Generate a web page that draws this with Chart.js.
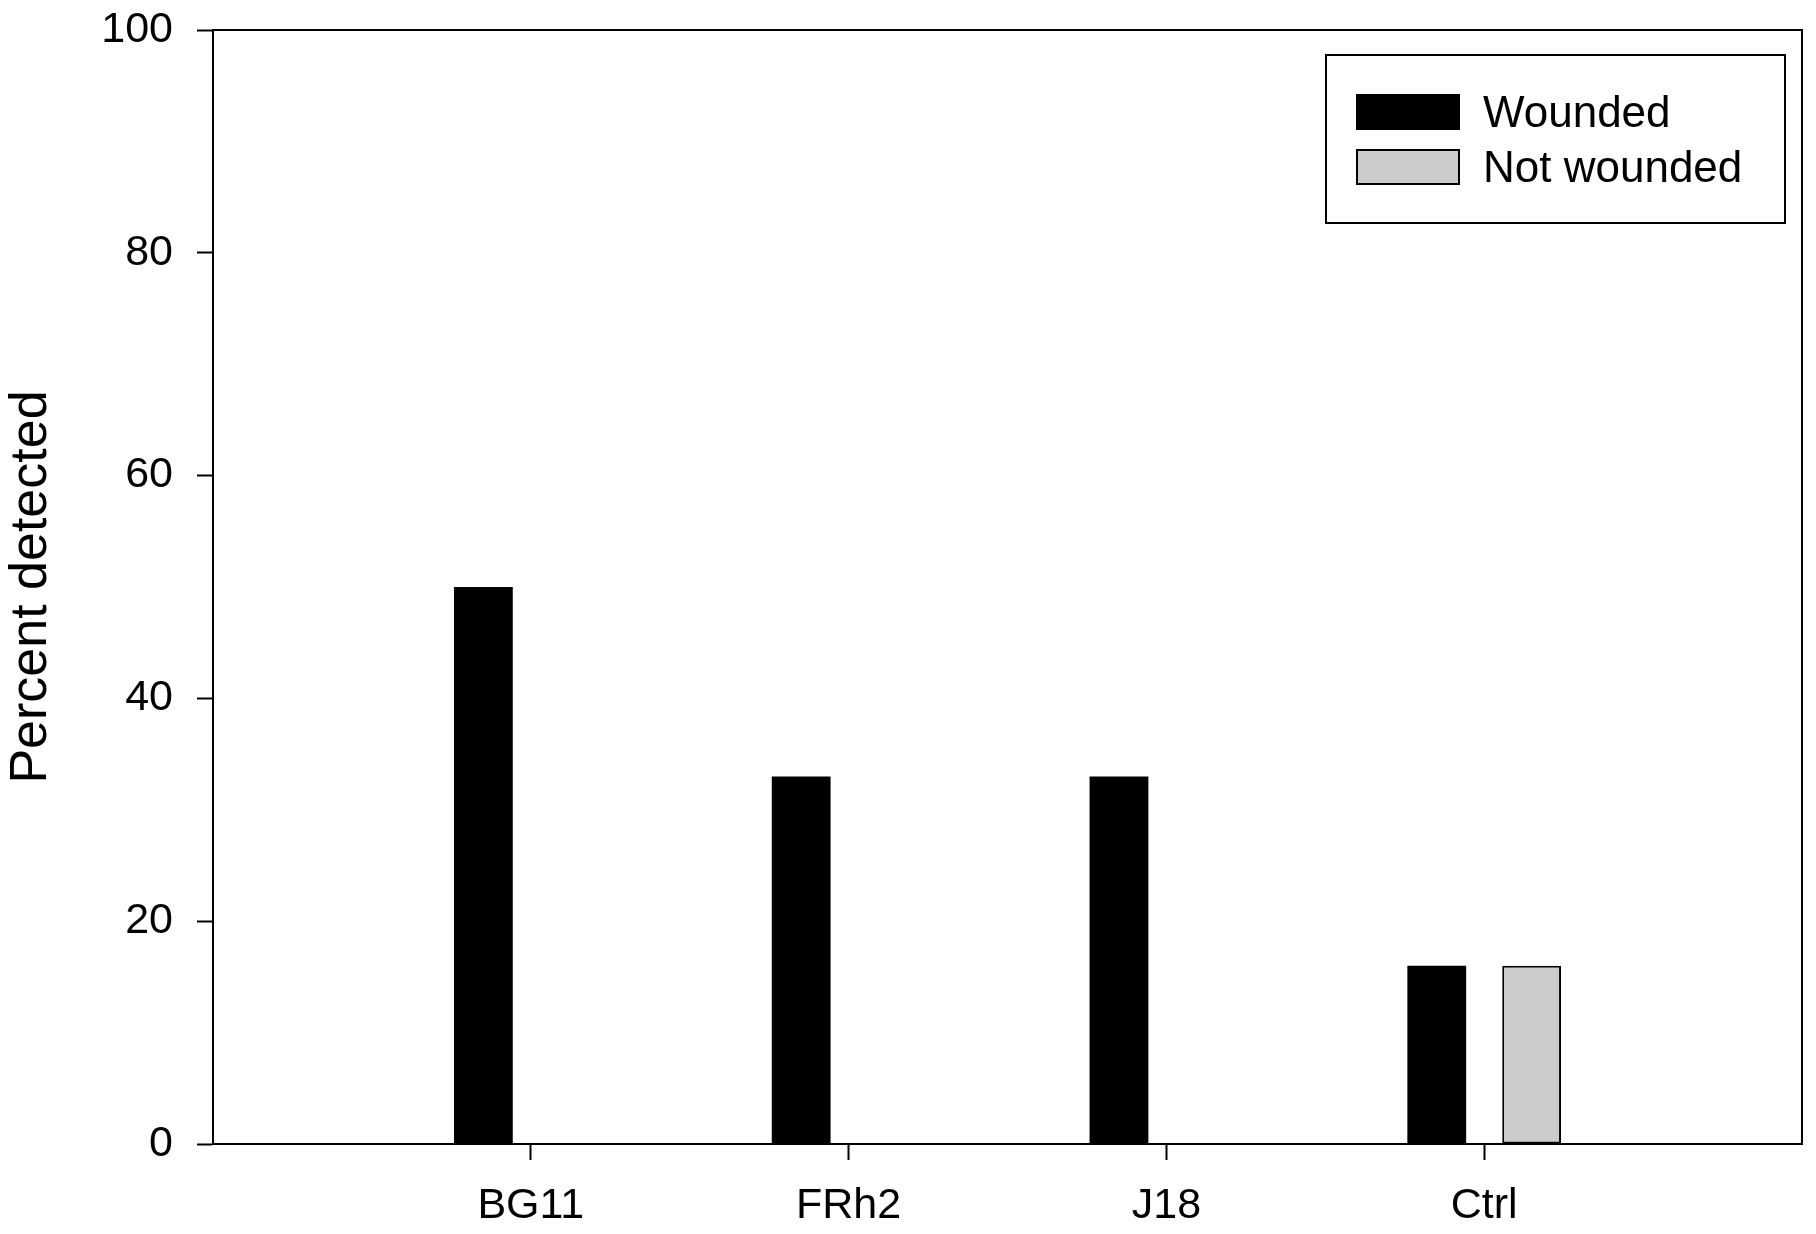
<!DOCTYPE html>
<html>
<head>
<meta charset="utf-8">
<script src="https://cdn.jsdelivr.net/npm/chart.js@4/dist/chart.umd.min.js"></script>
<style>
  html, body { margin: 0; padding: 0; background: #fff; }
  #wrap { width: 1816px; height: 1234px; }
</style>
</head>
<body>
<div id="wrap"><canvas id="bar-chart" width="1816" height="1234"></canvas></div>
<script>
// chart data
const categories = ["BG11", "FRh2", "J18", "Ctrl"]
const wounded = [50, 33, 33, 16]
const notWounded = [0, 0, 0, 16]
const yTicks = [0, 20, 40, 60, 80, 100]

const FONT = "'Liberation Sans', Arial, sans-serif"

// empty slots at both ends so the groups sit at 1..4 on a 0..5 axis
const labels = ["", ...categories, ""]
const pad = arr => [null, ...arr, null]

// frame round the plot + boxed legend inside the top right
const framePlugin = {
  id: "frame",
  afterDraw(chart) {
    const { ctx, chartArea: a } = chart
    ctx.save()
    ctx.strokeStyle = "#000"
    ctx.lineWidth = 2
    ctx.strokeRect(a.left, a.top, a.right - a.left, a.bottom - a.top)

    // legend
    const bx = 1326, by = 55, bw = 459, bh = 168
    ctx.fillStyle = "#fff"
    ctx.fillRect(bx, by, bw, bh)
    ctx.strokeRect(bx, by, bw, bh)
    ctx.font = "44px " + FONT
    ctx.textBaseline = "alphabetic"
    chart.data.datasets.forEach((ds, i) => {
      const sy = 95 + i * 55
      ctx.fillStyle = ds.backgroundColor
      ctx.fillRect(1357, sy, 102, 34)
      ctx.lineWidth = 2
      ctx.strokeStyle = "#000"
      ctx.strokeRect(1357, sy, 102, 34)
      ctx.fillStyle = "#000"
      ctx.fillText(ds.label, 1483, sy + 32)
    })
    ctx.restore()
  }
}

var config = {
  type: "bar",
  data: {
    labels: labels,
    datasets: [
      {
        label: "Wounded",
        data: pad(wounded),
        backgroundColor: "#000000",
        borderColor: "#000000",
        borderWidth: 0,
      },
      {
        label: "Not wounded",
        data: pad(notWounded),
        backgroundColor: "#cccccc",
        borderColor: "#000000",
        borderWidth: 2,
        borderSkipped: false,
      },
    ],
  },
  options: {
    responsive: false,
    animation: false,
    devicePixelRatio: 1,
    layout: { padding: { top: 30, right: 14, left: 0, bottom: 0 } },
    categoryPercentage: 0.597,
    barPercentage: 0.62,
    plugins: {
      legend: { display: false },
      tooltip: { enabled: false },
    },
    scales: {
      x: {
        offset: false,
        afterFit: s => {
          s.height = 90
          s.paddingLeft = 0
          s.paddingRight = 0
        },
        grid: {
          offset: false,
          drawOnChartArea: false,
          drawTicks: true,
          tickLength: 16,
          tickWidth: 2,
          tickColor: c => (c.tick && c.tick.label === "" ? "rgba(0,0,0,0)" : "#000"),
        },
        border: { display: true, color: "#000", width: 2 },
        ticks: {
          color: "#000",
          font: { family: FONT, size: 43 },
          padding: 20,
          maxRotation: 0,
          autoSkip: false,
        },
      },
      y: {
        min: 0,
        max: 100,
        afterFit: s => {
          s.width = 213
          s.paddingTop = 0
          s.paddingBottom = 0
        },
        afterBuildTicks: s => { s.ticks = yTicks.map(v => ({ value: v })) },
        grid: {
          drawOnChartArea: false,
          drawTicks: true,
          tickLength: 16,
          tickWidth: 2,
          tickColor: "#000",
        },
        border: { display: true, color: "#000", width: 2 },
        ticks: {
          color: "#000",
          font: { family: FONT, size: 43 },
          padding: 24,
        },
        title: {
          display: true,
          text: "Percent detected",
          color: "#000",
          font: { family: FONT, size: 52 },
          padding: 0,
        },
      },
    },
  },
  plugins: [framePlugin],
}

var ctx = document.getElementById("bar-chart").getContext("2d")
window.myBar = new Chart(ctx, config)
</script>
</body>
</html>
